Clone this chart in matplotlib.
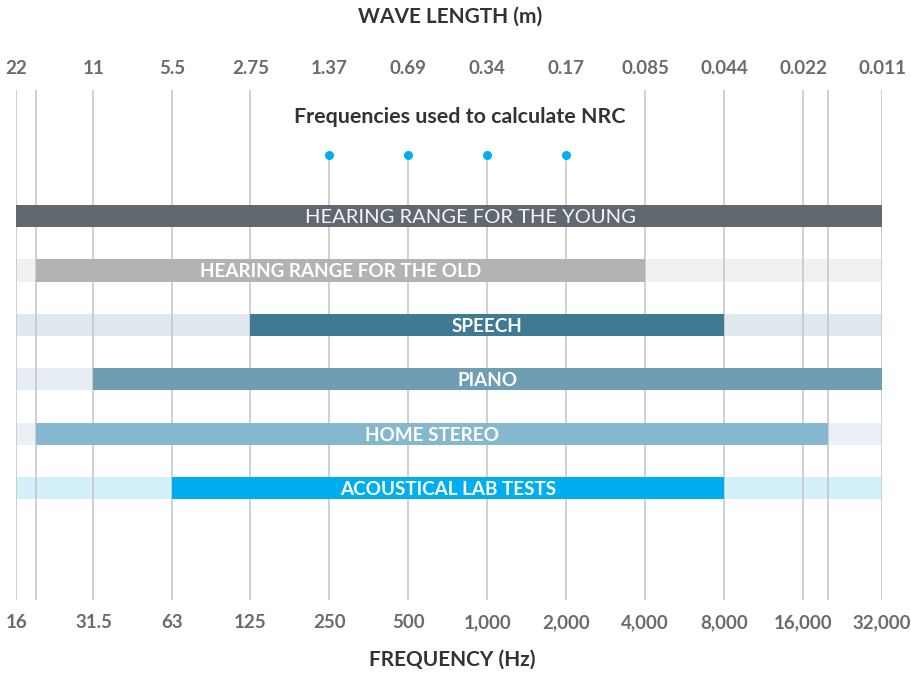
import numpy as np
import matplotlib
matplotlib.use("Agg")
from matplotlib import pyplot as plt

# tick labels (frequency and matching wave length)
freq_ticks = [16, 31.5, 63, 125, 250, 500, 1000, 2000, 4000, 8000, 16000, 32000]
freq_labels = ["16", "31.5", "63", "125", "250", "500", "1,000", "2,000",
               "4,000", "8,000", "16,000", "32,000"]
wave_labels = ["22", "11", "5.5", "2.75", "1.37", "0.69", "0.34", "0.17",
               "0.085", "0.044", "0.022", "0.011"]

# extra reference lines (limits of human hearing)
extra_lines = [19, 20000]

# NRC frequencies
nrc_freqs = [250, 500, 1000, 2000]

# ranges
range_names = ["HEARING RANGE FOR THE YOUNG", "HEARING RANGE FOR THE OLD",
               "SPEECH", "PIANO", "HOME STEREO", "ACOUSTICAL LAB TESTS"]
range_start = [16, 19, 125, 31.5, 19, 63]
range_end = [32000, 4000, 8000, 32000, 20000, 8000]

bar_colors = ["#5f676f", "#b3b3b3", "#3e7b93", "#6e9eb3", "#85b7cf", "#00aeef"]
bg_colors = ["#5f676f", "#efefef", "#d9e4ea", "#e3ebf1", "#e7eef5", "#cdeefa"]

plt.rcParams['font.family'] = ['Lato', 'DejaVu Sans']

fig = plt.figure(figsize=[9.11, 6.78], dpi=100)
W, H = 911, 678
ax = fig.add_axes([16.3 / W, (H - 600) / H, (882 - 16.3) / W, (600 - 90) / H])
ax.set_xscale("log", base=2)
ax.set_xlim(16, 32000)
ax.set_ylim(7.05, -2.31)
ax.axis("off")

nrc_y = -1.12
bar_h = 0.41

# grid lines
for f in freq_ticks + extra_lines:
    top = nrc_y if f in nrc_freqs else -2.31
    ax.plot([f, f], [7.05, top], color="#c4c4c4", lw=1.1, zorder=2,
            solid_capstyle="butt")

# background + foreground bars
y = np.arange(len(range_names))
ax.barh(y, [32000 - 16] * len(y), left=16, height=bar_h, color=bg_colors,
        alpha=0.85, zorder=1)
widths = [e - s for s, e in zip(range_start, range_end)]
ax.barh(y, widths, left=range_start, height=bar_h, color=bar_colors, zorder=3)

for i, name in enumerate(range_names):
    cx = np.sqrt(range_start[i] * range_end[i])
    if i == 0:
        ax.text(cx * 1.21, i + 0.03, name, ha="center", va="center",
                color="#f4f4f4", fontsize=14.5, fontweight="normal", zorder=4)
    else:
        ax.text(cx, i + 0.03, name, ha="center", va="center", color="white",
                fontsize=13.6, fontweight="bold", zorder=4)

# NRC markers
ax.scatter(nrc_freqs, [nrc_y] * len(nrc_freqs), s=30, color="#00aeef", zorder=4)
ax.text(np.sqrt(250 * 2000) * 1.11, -1.82, "Frequencies used to calculate NRC",
        ha="center", va="center", color="#333333", fontsize=15.4,
        fontweight="bold")

# tick labels
tick_col = "#6b6b6b"
for f, fl, wl in zip(freq_ticks, freq_labels, wave_labels):
    ax.annotate(fl, (f, 0), xycoords=("data", "figure fraction"),
                xytext=(0, (H - 623) * 0.72), textcoords="offset points",
                ha="center", va="center", color=tick_col, fontsize=13.5,
                fontweight="bold", annotation_clip=False)
    ax.annotate(wl, (f, 0), xycoords=("data", "figure fraction"),
                xytext=(0, (H - 68) * 0.72), textcoords="offset points",
                ha="center", va="center", color=tick_col, fontsize=13.5,
                fontweight="bold", annotation_clip=False)

fig.text(450 / W, 1 - 17 / H, "WAVE LENGTH (m)", ha="center", va="center",
         color="#333333", fontsize=15, fontweight="bold")
fig.text(452 / W, 1 - 660 / H, "FREQUENCY (Hz)", ha="center", va="center",
         color="#333333", fontsize=15, fontweight="bold")

fig.savefig("out.png", dpi=100, facecolor="white")
